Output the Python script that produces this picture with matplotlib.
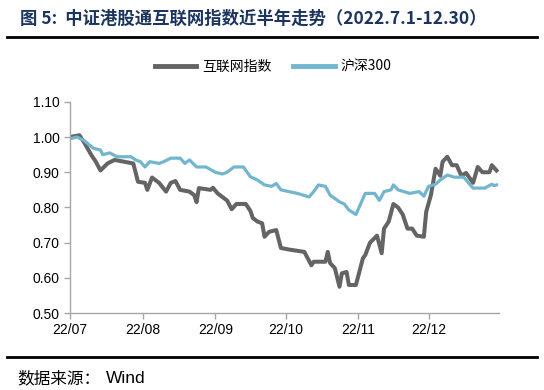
import pandas as pd
import matplotlib
matplotlib.use('Agg')
import matplotlib.pyplot as plt
from matplotlib.lines import Line2D

plt.rcParams['font.family'] = ['Liberation Sans', 'Noto Sans CJK SC', 'DejaVu Sans']

# 互联网指数 (normalized)
net_dates = ['2022-07-01', '2022-07-05', '2022-07-07', '2022-07-10', '2022-07-12', '2022-07-14',
             '2022-07-17', '2022-07-20', '2022-07-24', '2022-07-28', '2022-07-30', '2022-08-02',
             '2022-08-03', '2022-08-05', '2022-08-08', '2022-08-11', '2022-08-13', '2022-08-15',
             '2022-08-17', '2022-08-21', '2022-08-23', '2022-08-24', '2022-08-25', '2022-08-30',
             '2022-08-31', '2022-09-02', '2022-09-06', '2022-09-08', '2022-09-10', '2022-09-14',
             '2022-09-16', '2022-09-17', '2022-09-19', '2022-09-21', '2022-09-22', '2022-09-24',
             '2022-09-27', '2022-09-29', '2022-10-03', '2022-10-09', '2022-10-12', '2022-10-13',
             '2022-10-18', '2022-10-19', '2022-10-20', '2022-10-22', '2022-10-24', '2022-10-25',
             '2022-10-27', '2022-10-28', '2022-10-31', '2022-11-03', '2022-11-04', '2022-11-06',
             '2022-11-09', '2022-11-11', '2022-11-12', '2022-11-14', '2022-11-16', '2022-11-18',
             '2022-11-20', '2022-11-22', '2022-11-24', '2022-11-26', '2022-11-29', '2022-11-30',
             '2022-12-02', '2022-12-04', '2022-12-06', '2022-12-07', '2022-12-09', '2022-12-11',
             '2022-12-13', '2022-12-15', '2022-12-17', '2022-12-20', '2022-12-22', '2022-12-24',
             '2022-12-27', '2022-12-28', '2022-12-30']
net_values = [1.000, 1.005, 0.985, 0.950, 0.930, 0.905,
              0.925, 0.935, 0.930, 0.925, 0.873, 0.870,
              0.850, 0.885, 0.870, 0.845, 0.870, 0.875,
              0.850, 0.845, 0.835, 0.815, 0.855, 0.850,
              0.856, 0.840, 0.820, 0.795, 0.810, 0.810,
              0.790, 0.770, 0.760, 0.755, 0.717, 0.731,
              0.736, 0.685, 0.680, 0.674, 0.636, 0.646,
              0.646, 0.674, 0.642, 0.628, 0.575, 0.613,
              0.617, 0.580, 0.580, 0.656, 0.665, 0.700,
              0.720, 0.670, 0.740, 0.760, 0.810, 0.800,
              0.780, 0.740, 0.740, 0.720, 0.717, 0.788,
              0.835, 0.910, 0.890, 0.930, 0.944, 0.920,
              0.920, 0.890, 0.898, 0.870, 0.915, 0.900,
              0.900, 0.920, 0.905]

# 沪深300 (normalized)
hs_dates = ['2022-07-01', '2022-07-04', '2022-07-07', '2022-07-11', '2022-07-14', '2022-07-15',
            '2022-07-18', '2022-07-21', '2022-07-24', '2022-07-27', '2022-07-29', '2022-07-31',
            '2022-08-02', '2022-08-04', '2022-08-08', '2022-08-10', '2022-08-13', '2022-08-17',
            '2022-08-19', '2022-08-21', '2022-08-24', '2022-08-28', '2022-09-01', '2022-09-04',
            '2022-09-06', '2022-09-09', '2022-09-13', '2022-09-16', '2022-09-19', '2022-09-22',
            '2022-09-25', '2022-09-27', '2022-09-29', '2022-10-06', '2022-10-11', '2022-10-13',
            '2022-10-15', '2022-10-18', '2022-10-20', '2022-10-24', '2022-10-26', '2022-10-28',
            '2022-10-31', '2022-11-02', '2022-11-04', '2022-11-08', '2022-11-10', '2022-11-12',
            '2022-11-15', '2022-11-16', '2022-11-18', '2022-11-23', '2022-11-27', '2022-11-29',
            '2022-12-01', '2022-12-04', '2022-12-06', '2022-12-09', '2022-12-12', '2022-12-16',
            '2022-12-18', '2022-12-20', '2022-12-25', '2022-12-28', '2022-12-29', '2022-12-30']
hs_values = [0.995, 1.000, 0.990, 0.968, 0.963, 0.950,
             0.955, 0.944, 0.944, 0.944, 0.935, 0.930,
             0.915, 0.930, 0.925, 0.930, 0.940, 0.940,
             0.925, 0.935, 0.915, 0.915, 0.900, 0.895,
             0.900, 0.915, 0.915, 0.887, 0.878, 0.864,
             0.860, 0.868, 0.850, 0.840, 0.830, 0.845,
             0.864, 0.860, 0.835, 0.816, 0.810, 0.793,
             0.780, 0.810, 0.840, 0.840, 0.820, 0.845,
             0.850, 0.864, 0.850, 0.840, 0.845, 0.832,
             0.860, 0.866, 0.878, 0.892, 0.886, 0.886,
             0.870, 0.855, 0.855, 0.866, 0.862, 0.864]

tick_dates = ['2022-07-01', '2022-08-01', '2022-09-01', '2022-10-01', '2022-11-01', '2022-12-01']
tick_labels = ['22/07', '22/08', '22/09', '22/10', '22/11', '22/12']
y_ticks = [0.5, 0.6, 0.7, 0.8, 0.9, 1.0, 1.1]

gray = '#646464'
blue = '#72b5cf'
axis_color = '#a6a6a6'
cjk = ['Noto Sans CJK SC', 'Liberation Sans']

fig = plt.figure(figsize=(5.44, 3.90), dpi=100)
ax = fig.add_axes([0.1287, 0.197, 0.7883, 0.542])

ax.plot(pd.to_datetime(net_dates), net_values, color=gray, lw=2.9, solid_joinstyle='round')
ax.plot(pd.to_datetime(hs_dates), hs_values, color=blue, lw=2.3, solid_joinstyle='round')

ax.set_xlim(pd.Timestamp('2022-07-01'), pd.Timestamp('2022-12-31'))
ax.set_ylim(0.5, 1.1)
ax.set_yticks(y_ticks)
ax.set_yticklabels([f'{v:.2f}' for v in y_ticks])
ax.set_xticks(pd.to_datetime(tick_dates))
ax.set_xticklabels(tick_labels)

for s in ['top', 'right']:
    ax.spines[s].set_visible(False)
for s in ['left', 'bottom']:
    ax.spines[s].set_color(axis_color)
    ax.spines[s].set_linewidth(1.0)
ax.tick_params(axis='both', colors=axis_color, labelcolor='black', labelsize=10, length=4, width=1.0)
ax.tick_params(axis='x', pad=3)

handles = [Line2D([0], [0], color=gray, lw=3.5), Line2D([0], [0], color=blue, lw=3.5)]
fig.legend(handles, ['互联网指数', '沪深300'], loc='center', bbox_to_anchor=(0.502, 0.828),
           ncol=2, frameon=False, handlelength=3.0, columnspacing=1.6,
           handletextpad=0.4, prop={'family': cjk, 'size': 10})

fig.text(0.037, 0.953, '图 5:  中证港股通互联网指数近半年走势（2022.7.1-12.30）',
         fontsize=12.5, fontweight='bold', color='#1c355e', va='center', family=cjk)
fig.add_artist(Line2D([0.013, 0.987], [0.905, 0.905], color='black', lw=2.0))
fig.add_artist(Line2D([0.013, 0.987], [0.085, 0.085], color='black', lw=2.0))
fig.text(0.031, 0.030, '数据来源：', fontsize=12, va='center', family=cjk)
fig.text(0.195, 0.030, 'Wind', fontsize=12.5, va='center', family='Liberation Sans')

fig.savefig('out.png', dpi=100)
